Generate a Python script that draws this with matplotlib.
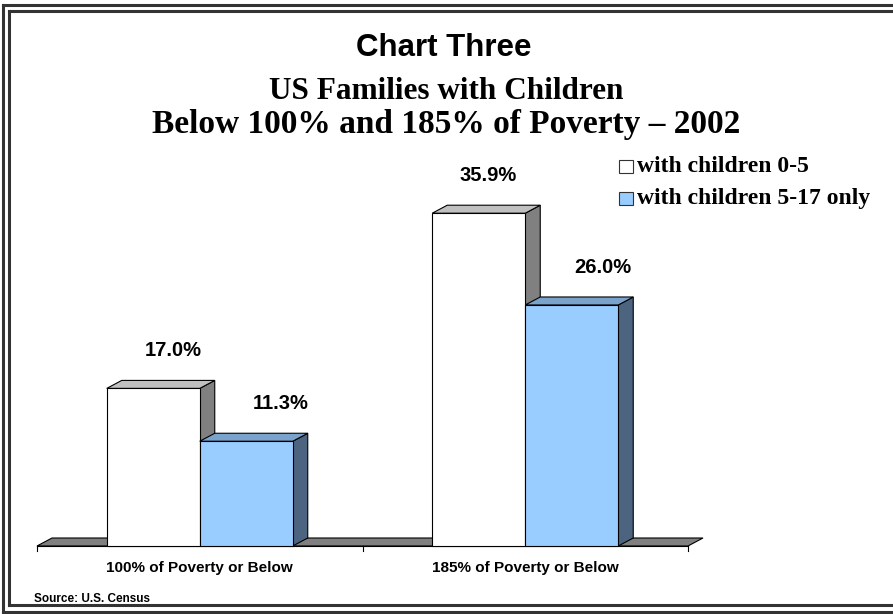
import matplotlib
matplotlib.use("Agg")
import matplotlib.pyplot as plt
from matplotlib.patches import Polygon, Rectangle
from matplotlib.lines import Line2D

# ---------------- data ----------------
categories = ["100% of Poverty or Below", "185% of Poverty or Below"]
series_names = ["with children 0-5", "with children 5-17 only"]
values_0_5 = [17.0, 35.9]
values_5_17 = [11.3, 26.0]
value_labels_0_5 = ["17.0%", "35.9%"]
value_labels_5_17 = ["11.3%", "26.0%"]
title_lines = ["Chart Three", "US Families with Children",
               "Below 100% and 185% of Poverty \u2013 2002"]
source_text = "Source: U.S. Census"

# ---------------- style ----------------
W, H = 893, 614
front_colors = ["#ffffff", "#99ccff"]
top_colors = ["#c0c0c0", "#7aa3cc"]
side_colors = ["#808080", "#4d6480"]
floor_color = "#808080"
SANS = ["Liberation Sans", "Arial", "DejaVu Sans"]
SERIF = ["Liberation Serif", "Times New Roman", "DejaVu Serif"]
# label offsets (pixels) from bar front centre: [series][category]
label_dx = [[20, 9], [34, 31]]
label_dy = 32

fig = plt.figure(figsize=(W / 100, H / 100), dpi=100)
fig.patch.set_facecolor("white")

# axes in pixel geometry
ax_left, ax_right, ax_base, ax_top = 37, 688, 546, 175.2
ax = fig.add_axes([ax_left / W, (H - ax_base) / H,
                   (ax_right - ax_left) / W, (ax_base - ax_top) / H])
ax.set_xlim(0, 2)
ax.set_ylim(0, 40)
ax.axis("off")

px_x = 2 / (ax_right - ax_left)          # data units per pixel (x)
px_y = 40 / (ax_base - ax_top)           # data units per pixel (y)
dx, dy = 15 * px_x, 8 * px_y             # 3-D depth
bw = 93 * px_x                           # bar width

# floor
ax.add_patch(Polygon([(0, 0), (2, 0), (2 + dx, dy), (dx, dy)], closed=True,
                     facecolor=floor_color, edgecolor="black", lw=0.8,
                     clip_on=False, zorder=1))
ax.add_line(Line2D([0, 2], [0, 0], color="black", lw=0.8, clip_on=False, zorder=2))
for t in range(len(categories) + 1):
    ax.add_line(Line2D([t, t], [0, -5 * px_y], color="black", lw=0.8,
                       clip_on=False, zorder=2))

series = [values_0_5, values_5_17]
labels = [value_labels_0_5, value_labels_5_17]
z = 3
for ci in range(len(categories)):
    c = ci + 0.5
    for si, vals in enumerate(series):
        h = vals[ci]
        x0 = c - bw if si == 0 else c
        x1 = x0 + bw
        # side face
        ax.add_patch(Polygon([(x1, 0), (x1 + dx, dy), (x1 + dx, h + dy), (x1, h)],
                             closed=True, facecolor=side_colors[si],
                             edgecolor="black", lw=0.8, clip_on=False, zorder=z))
        # top face
        ax.add_patch(Polygon([(x0, h), (x1, h), (x1 + dx, h + dy), (x0 + dx, h + dy)],
                             closed=True, facecolor=top_colors[si],
                             edgecolor="black", lw=0.8, clip_on=False, zorder=z))
        # front face
        ax.bar([x0], [h], width=bw, align="edge", color=front_colors[si],
               edgecolor="black", lw=0.8, clip_on=False, zorder=z + 0.5)
        ax.annotate(labels[si][ci], xy=(x0 + bw / 2, h),
                    xytext=(label_dx[si][ci], label_dy), textcoords="offset pixels",
                    ha="center", va="baseline", fontsize=14.5, fontweight="bold",
                    family=SANS, zorder=10)
        z += 1

# category labels
for ci, cat in enumerate(categories):
    ax.annotate(cat, xy=(ci + 0.5, 0), xycoords="data",
                xytext=(0, -26), textcoords="offset pixels",
                ha="center", va="baseline", fontsize=11, fontweight="bold",
                family=SANS)

# titles
fig.text(444 / W, 1 - 56 / H, title_lines[0], ha="center", va="baseline",
         fontsize=22.5, fontweight="bold", family=SANS)
fig.text(446 / W, 1 - 99 / H, title_lines[1], ha="center", va="baseline",
         fontsize=22.5, fontweight="bold", family=SERIF)
fig.text(446 / W, 1 - 133 / H, title_lines[2], ha="center", va="baseline",
         fontsize=24, fontweight="bold", family=SERIF)

# legend
leg_centers = [166, 198]
for i, name in enumerate(series_names):
    yc = leg_centers[i]
    fig.add_artist(Rectangle((619 / W, 1 - (yc + 6.5) / H), 14 / W, 13 / H,
                             transform=fig.transFigure, facecolor=front_colors[i],
                             edgecolor="#333333", lw=0.8))
    fig.text(637 / W, 1 - (yc + 6) / H, name, ha="left", va="baseline",
             fontsize=17, fontweight="bold", family=SERIF)

# source
fig.text(34 / W, 1 - 602 / H, source_text, ha="left", va="baseline",
         fontsize=8.5, fontweight="bold", family=SANS)

# double frame (right side lies beyond the image)
for (x, y0, y1) in [(2.5, 4.5, 611.5), (9, 11, 605)]:
    fig.add_artist(Line2D([x / W, x / W], [1 - y0 / H, 1 - y1 / H],
                          transform=fig.transFigure, color="#333333", lw=2.2))
    fig.add_artist(Line2D([x / W, 1], [1 - y0 / H, 1 - y0 / H],
                          transform=fig.transFigure, color="#333333", lw=2.2))
    fig.add_artist(Line2D([x / W, 1], [1 - y1 / H, 1 - y1 / H],
                          transform=fig.transFigure, color="#333333", lw=2.2))

fig.savefig("out.png", dpi=100)
